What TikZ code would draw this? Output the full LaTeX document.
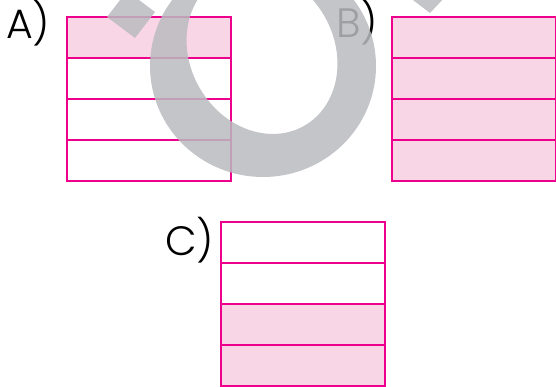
\documentclass[tikz,border=0pt]{standalone}
\usepackage{fontspec}
\newfontfamily\labfont{Poppins Light}
\definecolor{magline}{RGB}{236,0,140}
\definecolor{pinkfill}{RGB}{249,214,230}
\definecolor{wmgray}{RGB}{186,187,191}
\tikzset{
  rowline/.style={draw=magline, line width=2.9pt},
  pinkrow/.style={fill=pinkfill},
  lab/.style={inner sep=0pt, anchor=base west, font=\labfont\fontsize{41}{41}\selectfont, text=black},
  wm/.style={fill=wmgray, fill opacity=0.85},
}
\begin{document}
\begin{tikzpicture}[x=1pt,y=-1pt]
\useasboundingbox (0,0) rectangle (556,387);
% A
\fill[pinkrow] (67,17) rectangle (231,58);
\draw[rowline] (67,17) rectangle (231,181);
\foreach \y in {58,99,140} \draw[rowline] (67,\y) -- (231,\y);
% B
\fill[pinkrow] (392,17) rectangle (556,181);
\draw[rowline] (392,17) rectangle (556,181);
\foreach \y in {58,99,140} \draw[rowline] (392,\y) -- (556,\y);
% C
\fill[pinkrow] (221,304) rectangle (385,386);
\draw[rowline] (221,222) rectangle (385,386);
\foreach \y in {263,304,345} \draw[rowline] (221,\y) -- (385,\y);
% labels
\node[lab] (la) at (6,39) {A)};
\node[lab] (lb) at (336,38) {B)};
\node[lab] (lc) at (165,255) {C)};
% watermark
\fill[wm, even odd rule] (263,66) ellipse[x radius=113pt, y radius=111pt]
  (262,52) ellipse[x radius=72pt, y radius=85pt, rotate=30];
\fill[wm] (107,17) -- (135,38) -- (155,12) -- (127,-9) -- cycle;
\fill[wm] (409,-3) -- (430,13) -- (446,-4) -- cycle;
\end{tikzpicture}
\end{document}
